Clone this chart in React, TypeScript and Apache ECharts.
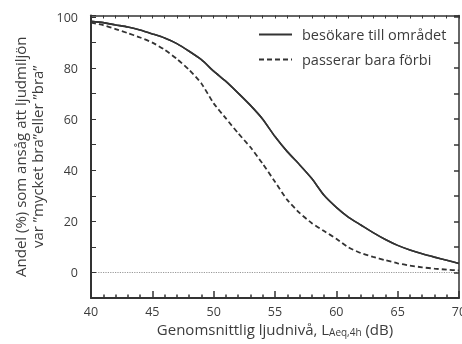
import React, { useEffect, useRef } from "react";
import * as echarts from "echarts";

const dbLevels = [40, 41, 42, 43, 44, 45, 46, 47, 48, 49, 50, 51, 52, 53, 54, 55, 56, 57, 58, 59, 60, 61, 62, 63, 64, 65, 66, 67, 68, 69, 70];
const visitors = [98.3, 97.8, 96.9, 96.1, 94.9, 93.4, 91.8, 89.6, 86.6, 83.3, 78.8, 74.8, 70.2, 65.4, 60.0, 53.2, 47.3, 42.2, 36.8, 30.2, 25.5, 21.6, 18.6, 15.6, 12.9, 10.6, 8.8, 7.3, 6.0, 4.8, 3.5];
const passers = [97.8, 96.8, 95.3, 93.7, 92.0, 90.0, 87.2, 83.6, 79.3, 74.0, 66.2, 60.3, 54.5, 49.0, 42.5, 35.5, 28.4, 23.3, 19.3, 16.2, 13.2, 9.8, 7.6, 6.1, 4.8, 3.6, 2.7, 2.0, 1.5, 1.1, 0.8];
const seriesNames = ["besökare till området", "passerar bara förbi"];
const yTickLabels = [0, 20, 40, 60, 80, 100];
const yAxisName = "Andel (%) som ansåg att ljudmiljön\nvar ”mycket bra”eller ”bra”";
const xAxisName = "{a|Genomsnittlig ljudnivå, L}{b|Aeq,4h}{a| (dB)}";

const FONT = "Open Sans";
const INK = "#333";
const TXT = "#3c3c3c";
const GRID = { left: 91, right: 3, top: 15.5, bottom: 46, outerBoundsMode: "none", containLabel: false };
const X_RANGE = { min: 40, max: 70 };
const Y_RANGE = { min: -10, max: 100.6 };

export default function App() {
  const baseRef = useRef<HTMLDivElement>(null);
  const frameRef = useRef<HTMLDivElement>(null);
  useEffect(() => {
    if (!baseRef.current || !frameRef.current) return;
    const base = echarts.init(baseRef.current, undefined, { renderer: "svg" });
    const frame = echarts.init(frameRef.current, undefined, { renderer: "svg" });
    const hidden = { axisLine: { show: false, onZero: false }, axisTick: { show: false }, axisLabel: { show: false }, splitLine: { show: false } };
    const visitorSeries = {
      name: seriesNames[0],
      type: "line",
      symbol: "none",
      smooth: 0.2,
      data: dbLevels.map((x, i) => [x, visitors[i]]),
      lineStyle: { color: INK, width: 1.6 },
    };
    base.setOption({
      animation: false,
      textStyle: { fontFamily: FONT },
      grid: GRID,
      legend: {
        orient: "vertical",
        left: 253,
        top: 22,
        itemWidth: 33,
        itemHeight: 14,
        itemGap: 10,
        itemStyle: { opacity: 0 },
        textStyle: { fontFamily: FONT, fontSize: 14.5, color: TXT, padding: [0, 0, 0, 5] },
        data: seriesNames,
      },
      xAxis: {
        type: "value",
        ...X_RANGE,
        interval: 5,
        position: "bottom",
        name: xAxisName,
        nameLocation: "middle",
        nameGap: 22,
        nameTextStyle: {
          rich: {
            a: { fontFamily: FONT, fontSize: 15, color: TXT, lineHeight: 17 },
            b: { fontFamily: FONT, fontSize: 10, color: TXT, verticalAlign: "bottom", lineHeight: 14 },
          },
        },
        ...hidden,
      },
      yAxis: {
        type: "value",
        ...Y_RANGE,
        interval: 10,
        position: "left",
        name: yAxisName,
        nameLocation: "middle",
        nameGap: 46,
        nameTextStyle: { fontFamily: FONT, fontSize: 15, color: TXT, lineHeight: 17, align: "center" },
        ...hidden,
      },
      series: [
        {
          ...visitorSeries,
          itemStyle: { color: INK },
          markLine: {
            silent: true,
            symbol: "none",
            label: { show: false },
            lineStyle: { color: "#999", width: 1.2, type: "dotted" },
            data: [{ yAxis: 0 }],
          },
        },
        {
          name: seriesNames[1],
          type: "line",
          symbol: "none",
          smooth: 0.2,
          data: dbLevels.map((x, i) => [x, passers[i]]),
          lineStyle: { color: INK, width: 1.8, type: [5, 3] },
          itemStyle: { color: INK },
        },
      ],
    });
    frame.setOption({
      animation: false,
      textStyle: { fontFamily: FONT },
      grid: GRID,
      xAxis: [
        {
          type: "value",
          ...X_RANGE,
          interval: 5,
          position: "bottom",
          axisLine: { show: true, onZero: false, lineStyle: { color: INK, width: 2 } },
          axisTick: { show: true, inside: true, length: 7, lineStyle: { color: INK, width: 1.5 } },
          minorTick: { show: true, splitNumber: 5, length: 3.5, lineStyle: { color: INK, width: 1.5 } },
          axisLabel: { fontFamily: FONT, fontSize: 12.5, color: TXT, margin: 7 },
          splitLine: { show: false },
        },
        {
          type: "value",
          ...X_RANGE,
          interval: 1,
          position: "top",
          axisLine: { show: true, onZero: false, lineStyle: { color: INK, width: 1.5 } },
          axisTick: { show: true, inside: true, length: 3, lineStyle: { color: INK } },
          axisLabel: { show: false },
          splitLine: { show: false },
        },
      ],
      yAxis: [
        {
          type: "value",
          ...Y_RANGE,
          interval: 10,
          position: "left",
          axisLine: { show: true, onZero: false, lineStyle: { color: INK, width: 2 } },
          axisTick: { show: true, inside: true, length: 5, lineStyle: { color: INK } },
          axisLabel: {
            fontFamily: FONT,
            fontSize: 12.5,
            color: TXT,
            margin: 13,
            formatter: (v: number) => (yTickLabels.indexOf(Math.round(v * 10) / 10) >= 0 ? String(v) : ""),
          },
          splitLine: { show: false },
        },
        {
          type: "value",
          ...Y_RANGE,
          interval: 10,
          position: "right",
          axisLine: { show: true, onZero: false, lineStyle: { color: INK, width: 1.5 } },
          axisTick: { show: true, inside: true, length: 5, lineStyle: { color: INK, width: 1.5 } },
          axisLabel: { show: false },
          splitLine: { show: false },
        },
      ],
      series: [visitorSeries],
    });
    return () => {
      base.dispose();
      frame.dispose();
    };
  }, []);
  return (
    <div style={{ position: "fixed", left: 0, top: 0, width: 462, height: 344 }}>
      <div ref={baseRef} style={{ position: "absolute", left: 0, top: 0, width: 462, height: 344 }} />
      <div ref={frameRef} style={{ position: "absolute", left: 0, top: 0, width: 462, height: 344, pointerEvents: "none" }} />
    </div>
  );
}
